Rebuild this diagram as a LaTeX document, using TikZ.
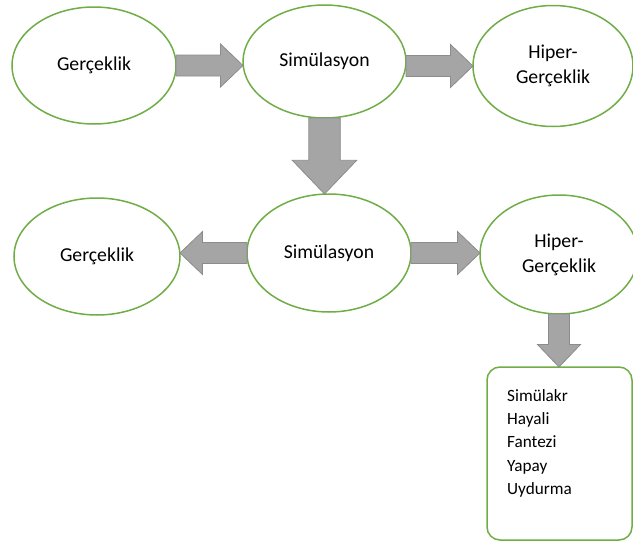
\documentclass[tikz,border=0pt]{standalone}
\usepackage{fontspec}
\setmainfont{Carlito}
\usepackage{tikz}
\usetikzlibrary{positioning,calc,shapes.geometric}

\definecolor{ringgreen}{HTML}{70AD47}
\definecolor{arrowfill}{HTML}{A5A5A5}
\definecolor{arrowline}{HTML}{8C8C8C}

% fat gray arrow from #2 to #3, #1 scales it
\newcommand{\blockarrow}[3][1]{%
  \coordinate (neck) at ($(#3)!#1*22.5pt!(#2)$);
  \filldraw[fatarrow]
    ($(#2)!#1*10.5pt!90:(#3)$) -- ($(neck)!#1*10.5pt!90:(#3)$) --
    ($(neck)!#1*21.5pt!90:(#3)$) -- (#3) --
    ($(neck)!#1*21.5pt!-90:(#3)$) -- ($(neck)!#1*10.5pt!-90:(#3)$) --
    ($(#2)!#1*10.5pt!-90:(#3)$) -- cycle;}

\begin{document}
\begin{tikzpicture}[x=1pt, y=-1pt,
ring/.style={ellipse, draw=ringgreen, line width=1.5pt, fill=white, inner sep=0pt, outer sep=0pt, align=center, font=\fontsize{19.7}{25}\selectfont},
fatarrow/.style={fill=arrowfill, draw=arrowline, line width=0.8pt},
listbox/.style={draw=ringgreen, line width=1.5pt, rounded corners=13pt, minimum width=145pt, minimum height=173pt, inner sep=0pt, outer sep=0pt},
listtext/.style={align=left, inner sep=0pt, font=\fontsize{17.2}{23.3}\selectfont}
]
\useasboundingbox (0,0) rectangle (633,544);

% upper row
\node[ring, minimum width=164pt, minimum height=117pt] (gercek1) at (94,65.5) {Gerçeklik};
\node[ring, minimum width=163pt, minimum height=113pt] (simul1) at (324.5,61.5) {Simülasyon};
\node[ring, minimum width=160pt, minimum height=121pt] (hiper1) at (553,66) {Hiper-\\Gerçeklik};

% lower row
\node[ring, minimum width=166pt, minimum height=117pt] (gercek2) at (97,256.5) {Gerçeklik};
\node[ring, minimum width=164pt, minimum height=118pt] (simul2) at (329,253) {Simülasyon};
\node[ring, minimum width=158pt, minimum height=119pt] (hiper2) at (559,254.5) {Hiper-\\Gerçeklik};

% list
\node[listbox] (list) at (559.5,453.5) {};
\node[listtext, below right=22pt and 20pt of list.north west] (items) {Simülakr\\Hayali\\Fantezi\\Yapay\\Uydurma};

\blockarrow{gercek1.east}{gercek1.east -| simul1.west}
\blockarrow{hiper1.west -| simul1.east}{hiper1.west}
\blockarrow[1.5]{simul1.south}{simul1.south |- simul2.north}
\blockarrow{simul2.west}{simul2.west -| gercek2.east}
\blockarrow{simul2.east}{simul2.east -| hiper2.west}
\blockarrow{hiper2.south}{hiper2.south |- list.north}
\end{tikzpicture}
\end{document}
